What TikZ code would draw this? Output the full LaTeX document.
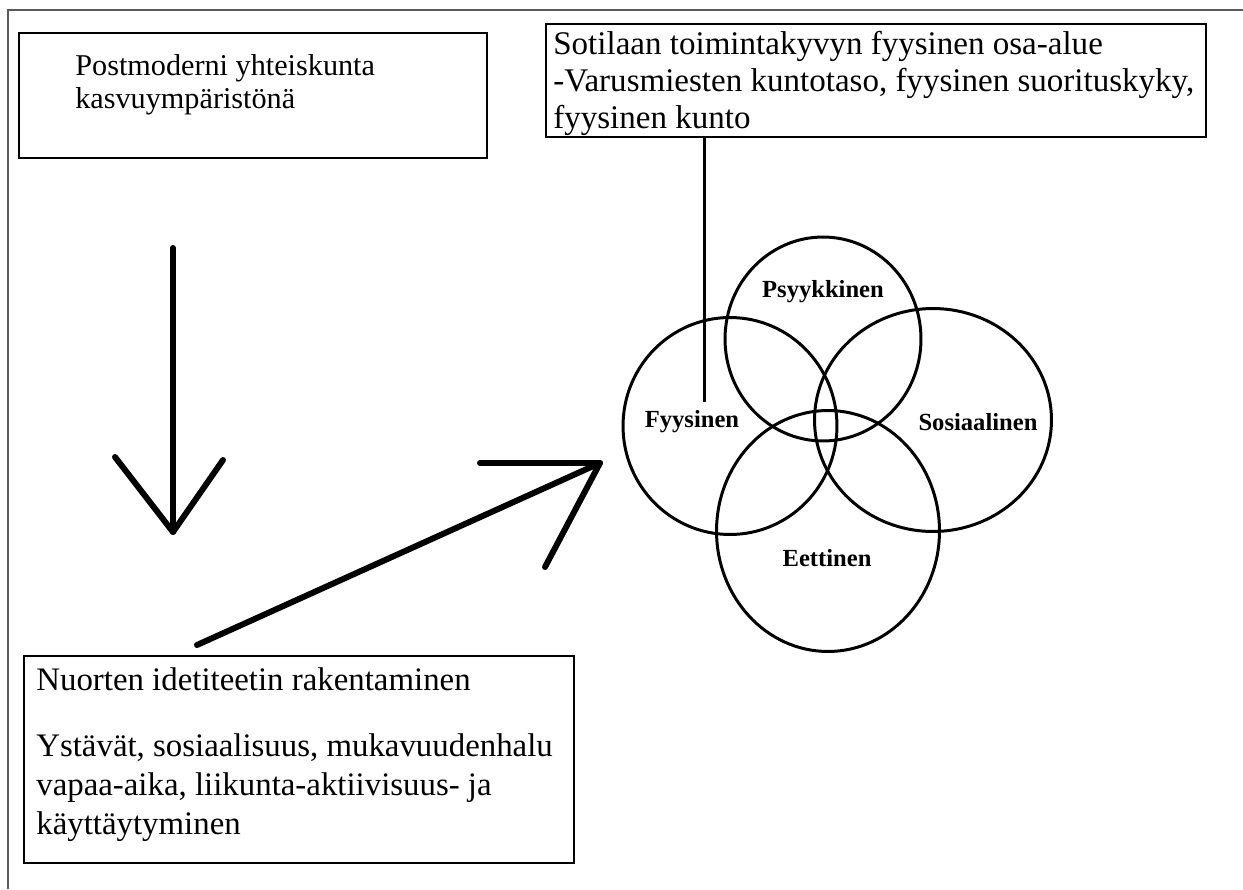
\documentclass[tikz,border=0pt]{standalone}
\usepackage{fontspec}
\setmainfont{Liberation Serif}
\usetikzlibrary{shapes.geometric}

\begin{document}
\begin{tikzpicture}[x=0.02cm,y=-0.02cm,
    laatikko/.style={draw,line width=1.1pt,shape=rectangle,inner sep=0pt},
    teksti/.style={anchor=north west,inner sep=0pt,align=left},
    osa/.style={draw,line width=1.7pt,shape=ellipse,inner sep=0pt},
    osanimi/.style={font=\fontsize{14}{16}\selectfont\bfseries},
    nuoli/.style={line width=3.4pt,line cap=round,line join=round}]
      \useasboundingbox (0,0) rectangle (1243,889) ;
      \draw[line width=1.7pt,black!65] (8,889)--(8,10)--(1243,10) ;
      % laatikot
      \node[laatikko,minimum width=9.36cm,minimum height=2.5cm] (post) at (253,95.5) {} ;
      \node[teksti,font=\fontsize{17.2}{18.9}\selectfont] (postT) at (75,54) %
      {Postmoderni yhteiskunta\\kasvuympäristönä} ;
      \node[laatikko,minimum width=13.2cm,minimum height=2.26cm] (sot) at (876,80.5) {} ;
      \node[teksti,font=\fontsize{18.8}{21}\selectfont] (sotT) at (553,31) %
      {Sotilaan toimintakyvyn fyysinen osa-alue\\-Varusmiesten kuntotaso, fyysinen suorituskyky,\\fyysinen kunto} ;
      \node[laatikko,minimum width=11cm,minimum height=4.14cm] (nuo) at (299,759.5) {} ;
      \node[teksti,font=\fontsize{18.7}{22}\selectfont] (nuoT) at (36,667) %
      {Nuorten idetiteetin rakentaminen\\[16pt]Ystävät, sosiaalisuus, mukavuudenhalu\\vapaa-aika, liikunta-aktiivisuus- ja\\käyttäytyminen} ;
      % toimintakyvyn osa-alueet
      \node[osa,minimum width=3.92cm,minimum height=4.08cm] (psy) at (823,339) {} ;
      \node[osa,minimum width=4.28cm,minimum height=4.34cm] (fyy) at (730,426) {} ;
      \node[osa,minimum width=4.74cm,minimum height=4.46cm] (sos) at (933,420) {} ;
      \node[osa,minimum width=4.46cm,minimum height=4.82cm] (eet) at (828,531) {} ;
      \node[osanimi] (psyN) at (823,292) {Psyykkinen} ;
      \node[osanimi] (fyyN) at (692,422) {Fyysinen} ;
      \node[osanimi] (sosN) at (978,422) {Sosiaalinen} ;
      \node[osanimi] (eetN) at (827,558) {Eettinen} ;
      \coordinate (viivaK) at (704,402) ;
      \draw[line width=1.7pt] (viivaK |- sot.south)--(viivaK) ;
      % nuolet
      \coordinate (A1) at (173,248) ;
      \coordinate (A2) at (173,532) ;
      \coordinate (A3) at (115,457) ;
      \coordinate (A4) at (223,460) ;
      \draw[nuoli] (A1)--(A2) ;
      \draw[nuoli] (A3)--(A2)--(A4) ;
      \coordinate (B1) at (197,645) ;
      \coordinate (B2) at (600,463) ;
      \coordinate (B3) at (480,463) ;
      \coordinate (B4) at (545,567) ;
      \draw[nuoli] (B1)--(B2) ;
      \draw[nuoli] (B3)--(B2)--(B4) ;
\end{tikzpicture}
\end{document}
